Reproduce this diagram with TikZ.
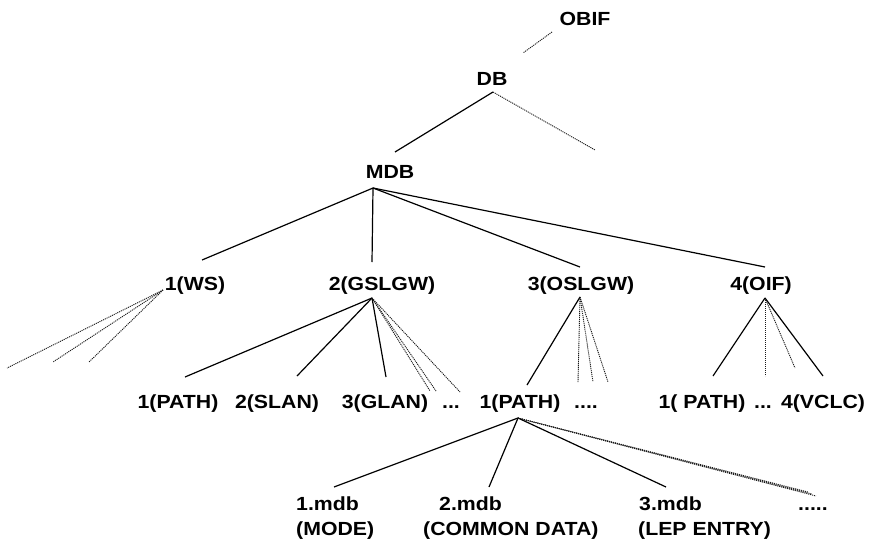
\documentclass[tikz,border=0pt]{standalone}
\usepackage{fontspec}
\setmainfont{Liberation Sans}[FakeStretch=1.12]
\begin{document}
\begin{tikzpicture}[x=1pt,y=-1pt,
  lbl/.style={inner sep=0pt, text height=13.6pt, text depth=0pt,
              font=\fontsize{19}{22}\selectfont\bfseries},
  edge/.style={line width=1.2pt, black},
  dots/.style={line width=0.9pt, dash pattern=on 1.1pt off 0.9pt, black!90}]
\useasboundingbox (0,0) rectangle (880,552);

% ---- labels ----
\node[lbl] (obif) at (585,19)  {OBIF};
\node[lbl] (db)   at (492,79)  {DB};
\node[lbl] (mdb)  at (390,172) {MDB};

\node[lbl] (ws)  at (195,284) {1(WS)};
\node[lbl] (gs)  at (382,284) {2(GSLGW)};
\node[lbl] (os)  at (581,284) {3(OSLGW)};
\node[lbl] (oif) at (761,284) {4(OIF)};

\node[lbl] (pa)   at (178,402) {1(PATH)};
\node[lbl] (sl)   at (277,402) {2(SLAN)};
\node[lbl] (gl)   at (385,402) {3(GLAN)};
\node[lbl] (gd)   at (451,402) {...};
\node[lbl] (pp)   at (520,402) {1(PATH)};
\node[lbl] (pd)   at (586,402) {....};
\node[lbl] (op)   at (702,402) {1( PATH)};
\node[lbl] (od)   at (763,402) {...};
\node[lbl] (vc)   at (823,402) {4(VCLC)};

\node[lbl, anchor=west] (m1)  at (296,504) {1.mdb};
\node[lbl, anchor=west] (m1d) at (296,529) {(MODE)};
\node[lbl, anchor=west] (m2)  at (439,504) {2.mdb};
\node[lbl, anchor=west] (m2d) at (423,529) {(COMMON DATA)};
\node[lbl, anchor=west] (m3)  at (639,504) {3.mdb};
\node[lbl, anchor=west] (m3d) at (638,529) {(LEP ENTRY)};
\node[lbl, anchor=west] (md)  at (798,504) {.....};

% ---- branching points ----
\coordinate (db-a)  at (493,92);
\coordinate (mdb-a) at (373,188);
\coordinate (ws-a)  at (163,290);
\coordinate (gs-a)  at (372,298);
\coordinate (os-a)  at (580,297);
\coordinate (oif-a) at (765,298);
\coordinate (pp-a)  at (518,418);

% ---- line ends ----
\coordinate (obif-e) at (552,32);
\coordinate (db-e)   at (523,53);
\coordinate (mdb-t)  at (395,152);
\coordinate (db-r)   at (595,150);
\coordinate (ws-t)   at (202,260);
\coordinate (gs-t)   at (372,262);
\coordinate (os-t)   at (580,267);
\coordinate (oif-t)  at (765,267);
\coordinate (ws-r1)  at (7,368);
\coordinate (ws-r2)  at (53,362);
\coordinate (ws-r3)  at (89,362);
\coordinate (pa-t)   at (185,377);
\coordinate (sl-t)   at (297,376);
\coordinate (gl-t)   at (386,377);
\coordinate (gd-t1)  at (430,391);
\coordinate (gd-t2)  at (436,391);
\coordinate (gd-t3)  at (460,392);
\coordinate (pp-t)   at (527,385);
\coordinate (pd-t1)  at (578,382);
\coordinate (pd-t2)  at (593,382);
\coordinate (pd-t3)  at (608,382);
\coordinate (op-t)   at (713,376);
\coordinate (od-t)   at (765,376);
\coordinate (od-t2)  at (795,368);
\coordinate (vc-t)   at (823,376);
\coordinate (m1-t)   at (334,487);
\coordinate (m2-t)   at (489,487);
\coordinate (m3-t)   at (666,487);
\coordinate (md-t1)  at (808,492);
\coordinate (md-t2)  at (812,494);
\coordinate (md-t3)  at (816,496);

% ---- connectors ----
\draw[dots] (obif-e) -- (db-e);
\draw[edge] (db-a) -- (mdb-t);
\draw[dots] (db-a) -- (db-r);

\draw[edge] (mdb-a) -- (ws-t);
\draw[edge] (mdb-a) -- (gs-t);
\draw[edge] (mdb-a) -- (os-t);
\draw[edge] (mdb-a) -- (oif-t);

\draw[dots] (ws-a) -- (ws-r1);
\draw[dots] (ws-a) -- (ws-r2);
\draw[dots] (ws-a) -- (ws-r3);

\draw[edge] (gs-a) -- (pa-t);
\draw[edge] (gs-a) -- (sl-t);
\draw[edge] (gs-a) -- (gl-t);
\draw[dots] (gs-a) -- (gd-t1);
\draw[dots] (gs-a) -- (gd-t2);
\draw[dots] (gs-a) -- (gd-t3);

\draw[edge] (os-a) -- (pp-t);
\draw[dots] (os-a) -- (pd-t1);
\draw[dots] (os-a) -- (pd-t2);
\draw[dots] (os-a) -- (pd-t3);

\draw[edge] (oif-a) -- (op-t);
\draw[dots] (oif-a) -- (od-t);
\draw[dots] (oif-a) -- (od-t2);
\draw[edge] (oif-a) -- (vc-t);

\draw[edge] (pp-a) -- (m1-t);
\draw[edge] (pp-a) -- (m2-t);
\draw[edge] (pp-a) -- (m3-t);
\draw[dots] (pp-a) -- (md-t1);
\draw[dots] (pp-a) -- (md-t2);
\draw[dots] (pp-a) -- (md-t3);
\end{tikzpicture}
\end{document}
